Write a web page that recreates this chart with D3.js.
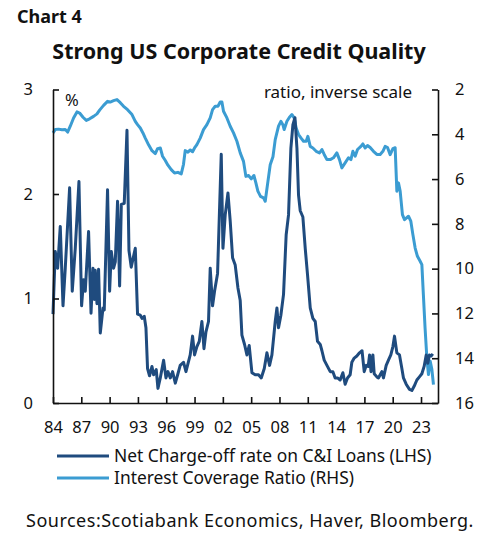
<!DOCTYPE html>
<html>
<head>
<meta charset="utf-8">
<script src="https://cdn.jsdelivr.net/npm/d3@7"></script>
<style>
  body { margin: 0; background: #fff; }
  svg text { font-family: "Noto Sans", "Open Sans", sans-serif; fill: #111; }
</style>
</head>
<body>
<svg id="chart" width="482" height="534"></svg>
<script>
// Net charge-off rate on C&I loans (%)
const chargeOffYears = [1984.00, 1984.24, 1984.49, 1984.77, 1985.06, 1985.30, 1985.76, 1986.04, 1986.36, 1986.75,
  1987.03, 1987.24, 1987.42, 1987.77, 1988.03, 1988.24, 1988.38, 1988.48, 1988.66, 1988.83,
  1989.01, 1989.30, 1989.43, 1989.78, 1990.00, 1990.18, 1990.42, 1990.60, 1990.84, 1991.06,
  1991.24, 1991.55, 1991.84, 1992.05, 1992.29, 1992.72, 1992.96, 1993.25, 1993.43, 1993.67,
  1993.85, 1994.02, 1994.23, 1994.49, 1994.66, 1994.94, 1995.12, 1995.37, 1995.72, 1995.97,
  1996.18, 1996.43, 1996.67, 1996.96, 1997.24, 1997.48, 1997.83, 1998.09, 1998.54, 1998.79,
  1999.00, 1999.25, 1999.50, 1999.78, 2000.00, 2000.21, 2000.48, 2000.66, 2000.91, 2001.12,
  2001.44, 2001.62, 2001.83, 2002.01, 2002.25, 2002.54, 2002.78, 2003.03, 2003.31, 2003.60,
  2003.84, 2004.02, 2004.30, 2004.55, 2004.79, 2005.08, 2005.43, 2005.78, 2006.07, 2006.39,
  2006.67, 2006.95, 2007.20, 2007.55, 2007.73, 2007.90, 2008.15, 2008.43, 2008.71, 2008.96,
  2009.21, 2009.42, 2009.64, 2009.85, 2010.02, 2010.20, 2010.48, 2010.73, 2010.97, 2011.26,
  2011.54, 2011.79, 2012.03, 2012.32, 2012.50, 2012.74, 2013.03, 2013.38, 2013.66, 2013.90,
  2014.15, 2014.43, 2014.72, 2014.96, 2015.21, 2015.49, 2015.67, 2015.92, 2016.20, 2016.48,
  2016.75, 2016.98, 2017.20, 2017.40, 2017.55, 2017.70, 2017.90, 2018.04, 2018.32, 2018.49,
  2018.67, 2018.85, 2019.02, 2019.31, 2019.55, 2019.80, 2020.02, 2020.19, 2020.44, 2020.72,
  2020.97, 2021.14, 2021.43, 2021.78, 2022.03, 2022.27, 2022.56, 2022.83, 2023.09, 2023.33,
  2023.55, 2023.72, 2023.89, 2024.07, 2024.25];
const chargeOffRates = [0.85, 1.45, 1.29, 1.69, 0.93, 1.29, 2.06, 1.07, 1.48, 2.12,
  0.93, 1.18, 1.07, 1.64, 0.86, 1.29, 0.99, 1.27, 0.95, 1.28,
  0.67, 0.91, 0.89, 2.04, 1.07, 1.45, 1.29, 1.35, 1.93, 1.12,
  1.90, 1.91, 2.61, 1.46, 1.30, 1.48, 0.85, 0.84, 0.81, 0.83,
  0.72, 0.33, 0.26, 0.35, 0.27, 0.32, 0.14, 0.24, 0.41, 0.24,
  0.30, 0.24, 0.30, 0.19, 0.28, 0.36, 0.39, 0.30, 0.46, 0.64,
  0.46, 0.54, 0.59, 0.78, 0.52, 0.68, 0.78, 1.29, 0.93, 1.07,
  1.24, 1.77, 2.38, 1.48, 1.80, 2.01, 1.74, 1.39, 1.32, 1.10,
  0.98, 0.65, 0.56, 0.46, 0.55, 0.29, 0.27, 0.27, 0.24, 0.33,
  0.48, 0.36, 0.46, 0.78, 0.91, 0.72, 0.84, 1.04, 1.61, 1.80,
  2.44, 2.66, 2.73, 2.44, 1.99, 1.84, 1.78, 1.48, 1.23, 0.91,
  0.81, 0.78, 0.59, 0.56, 0.50, 0.41, 0.36, 0.30, 0.30, 0.24,
  0.24, 0.22, 0.29, 0.18, 0.24, 0.27, 0.39, 0.43, 0.45, 0.48,
  0.50, 0.30, 0.36, 0.35, 0.46, 0.30, 0.46, 0.28, 0.25, 0.24,
  0.27, 0.30, 0.24, 0.36, 0.41, 0.46, 0.54, 0.64, 0.48, 0.46,
  0.33, 0.24, 0.18, 0.13, 0.12, 0.16, 0.22, 0.25, 0.28, 0.35,
  0.46, 0.38, 0.46, 0.45, 0.47];

// Interest coverage ratio (RHS, inverted)
const coverageYears = [1984.00, 1984.24, 1984.59, 1984.95, 1985.30, 1985.55, 1985.83, 1986.18, 1986.54, 1986.82,
  1987.18, 1987.53, 1987.88, 1988.30, 1988.66, 1988.94, 1989.36, 1989.78, 1990.07, 1990.42,
  1990.78, 1991.13, 1991.48, 1991.90, 1992.37, 1992.72, 1992.96, 1993.25, 1993.53, 1993.78,
  1994.13, 1994.49, 1994.84, 1995.08, 1995.37, 1995.61, 1995.90, 1996.18, 1996.53, 1996.88,
  1997.24, 1997.59, 1997.83, 1998.01, 1998.30, 1998.55, 1998.79, 1999.00, 1999.25, 1999.60,
  1999.95, 2000.31, 2000.66, 2000.91, 2001.19, 2001.48, 2001.72, 2001.90, 2002.07, 2002.43,
  2002.78, 2003.13, 2003.49, 2003.84, 2004.19, 2004.44, 2004.72, 2005.01, 2005.29, 2005.50,
  2005.71, 2005.99, 2006.31, 2006.49, 2006.73, 2007.02, 2007.31, 2007.55, 2007.90, 2008.15,
  2008.36, 2008.50, 2008.79, 2009.06, 2009.32, 2009.56, 2009.77, 2010.02, 2010.27, 2010.55,
  2010.83, 2011.01, 2011.26, 2011.54, 2011.89, 2012.24, 2012.50, 2012.74, 2013.03, 2013.38,
  2013.72, 2014.08, 2014.36, 2014.61, 2014.96, 2015.31, 2015.57, 2015.78, 2016.02, 2016.27,
  2016.63, 2016.84, 2017.08, 2017.33, 2017.61, 2017.96, 2018.32, 2018.67, 2018.96, 2019.20,
  2019.45, 2019.73, 2020.02, 2020.26, 2020.44, 2020.61, 2020.79, 2021.03, 2021.25, 2021.67,
  2021.92, 2022.14, 2022.38, 2022.62, 2022.91, 2023.09, 2023.25, 2023.43, 2023.62, 2023.79,
  2023.97, 2024.15, 2024.32];
const coverageRatios = [3.94, 3.79, 3.77, 3.80, 3.79, 3.90, 3.64, 3.27, 3.00, 3.05,
  3.24, 3.38, 3.31, 3.20, 3.09, 2.92, 2.71, 2.53, 2.56, 2.50,
  2.45, 2.59, 2.75, 2.90, 3.12, 3.42, 3.57, 3.72, 3.94, 4.17,
  4.47, 4.73, 4.86, 4.64, 4.61, 4.98, 5.17, 5.38, 5.58, 5.73,
  5.70, 5.77, 5.34, 4.73, 4.80, 4.70, 4.78, 4.61, 4.46, 4.17,
  3.79, 3.57, 3.27, 2.90, 2.75, 2.75, 2.56, 2.56, 2.97, 3.27,
  3.64, 3.94, 4.31, 4.83, 5.21, 5.88, 5.84, 5.99, 5.84, 6.17,
  6.54, 6.77, 6.84, 6.99, 6.25, 5.36, 5.00, 4.24, 3.64, 3.42,
  3.57, 3.79, 3.42, 3.24, 3.12, 3.27, 3.72, 4.01, 4.16, 4.31,
  4.31, 4.09, 4.54, 4.61, 4.76, 4.83, 4.68, 4.90, 5.13, 5.13,
  5.05, 4.83, 5.13, 5.50, 5.28, 5.05, 5.13, 4.76, 4.98, 4.68,
  4.54, 4.43, 4.61, 4.50, 4.59, 4.76, 4.90, 4.90, 4.76, 4.54,
  4.59, 4.91, 4.64, 4.60, 6.54, 6.17, 6.54, 7.59, 7.81, 7.66,
  7.88, 8.48, 9.08, 9.45, 9.67, 9.82, 11.16, 12.65, 13.99, 14.73,
  14.13, 14.50, 15.18];

const yearTicks = [1984, 1987, 1990, 1993, 1996, 1999, 2002, 2005, 2008, 2011, 2014, 2017, 2020, 2023];
const leftTicks = [0, 1, 2, 3];
const rightTicks = [2, 4, 6, 8, 10, 12, 14, 16];

const darkBlue = "#1f4b7e",
      lightBlue = "#3b9cd2";

const svg = d3.select("#chart");

const x0 = 53, x1 = 438, yTop = 89.5, yBot = 403;

const x = d3.scaleLinear().domain([1984, 2024.8]).range([x0, x1]);
const yL = d3.scaleLinear().domain([0, 3]).range([yBot, yTop]);
const yR = d3.scaleLinear().domain([2, 16]).range([yTop, yBot]);

// Titles
svg.append("text")
  .attr("x", 17).attr("y", 23)
  .style("font-size", "18px").style("font-weight", "bold")
  .text("Chart 4");

svg.append("text")
  .attr("x", 239).attr("y", 59)
  .attr("text-anchor", "middle")
  .style("font-size", "21.5px").style("font-weight", "bold")
  .text("Strong US Corporate Credit Quality");

// Lines
const coverage = coverageYears.map((d, i) => [d, coverageRatios[i]]);
const chargeOff = chargeOffYears.map((d, i) => [d, chargeOffRates[i]]);

svg.append("path")
  .datum(coverage)
  .attr("fill", "none")
  .attr("stroke", lightBlue)
  .attr("stroke-width", 3)
  .attr("stroke-linejoin", "round")
  .attr("d", d3.line().x(d => x(d[0])).y(d => yR(d[1])));

svg.append("path")
  .datum(chargeOff)
  .attr("fill", "none")
  .attr("stroke", darkBlue)
  .attr("stroke-width", 3)
  .attr("stroke-linejoin", "round")
  .attr("d", d3.line().x(d => x(d[0])).y(d => yL(d[1])));

// Axes
const xAxis = svg.append("g")
  .attr("transform", `translate(0, ${yBot})`)
  .call(d3.axisBottom(x).tickValues(yearTicks).tickSizeInner(-6).tickSizeOuter(0)
    .tickFormat(d => String(d % 100).padStart(2, "0")));
xAxis.selectAll("text").attr("y", 18).style("font-size", "16.5px");

const leftAxis = svg.append("g")
  .attr("transform", `translate(${x0}, 0)`)
  .call(d3.axisLeft(yL).tickValues(leftTicks).tickSizeInner(-6).tickSizeOuter(0)
    .tickFormat(d3.format("d")));
leftAxis.selectAll("text").attr("x", -20).style("font-size", "16.5px");

const rightAxis = svg.append("g")
  .attr("transform", `translate(${x1}, 0)`)
  .call(d3.axisRight(yR).tickValues(rightTicks).tickSizeInner(-6).tickSizeOuter(0));
rightAxis.selectAll("text").attr("x", 17).style("font-size", "16.5px");

svg.selectAll(".domain, .tick line")
  .attr("stroke", "#111")
  .attr("stroke-width", 1.6);
svg.selectAll(".tick text").style("fill", "#111");

// Unit labels
svg.append("text")
  .attr("x", 65).attr("y", 106)
  .style("font-size", "16.5px")
  .text("%");

svg.append("text")
  .attr("x", 412).attr("y", 98)
  .attr("text-anchor", "end")
  .style("font-size", "17px")
  .text("ratio, inverse scale");

// Legend
const legend = [
  { label: "Net Charge-off rate on C&I Loans (LHS)", color: darkBlue },
  { label: "Interest Coverage Ratio (RHS)", color: lightBlue }
];
legend.forEach((d, i) => {
  const ly = 456 + i * 22;
  svg.append("line")
    .attr("x1", 57).attr("x2", 109)
    .attr("y1", ly).attr("y2", ly)
    .attr("stroke", d.color).attr("stroke-width", 3);
  svg.append("text")
    .attr("x", 114).attr("y", ly + 6)
    .style("font-size", "17.4px")
    .text(d.label);
});

// Source
svg.append("text")
  .attr("x", 26).attr("y", 527)
  .style("font-size", "18px")
  .style("letter-spacing", "0.5px")
  .text("Sources:Scotiabank Economics, Haver, Bloomberg.");
</script>
</body>
</html>
